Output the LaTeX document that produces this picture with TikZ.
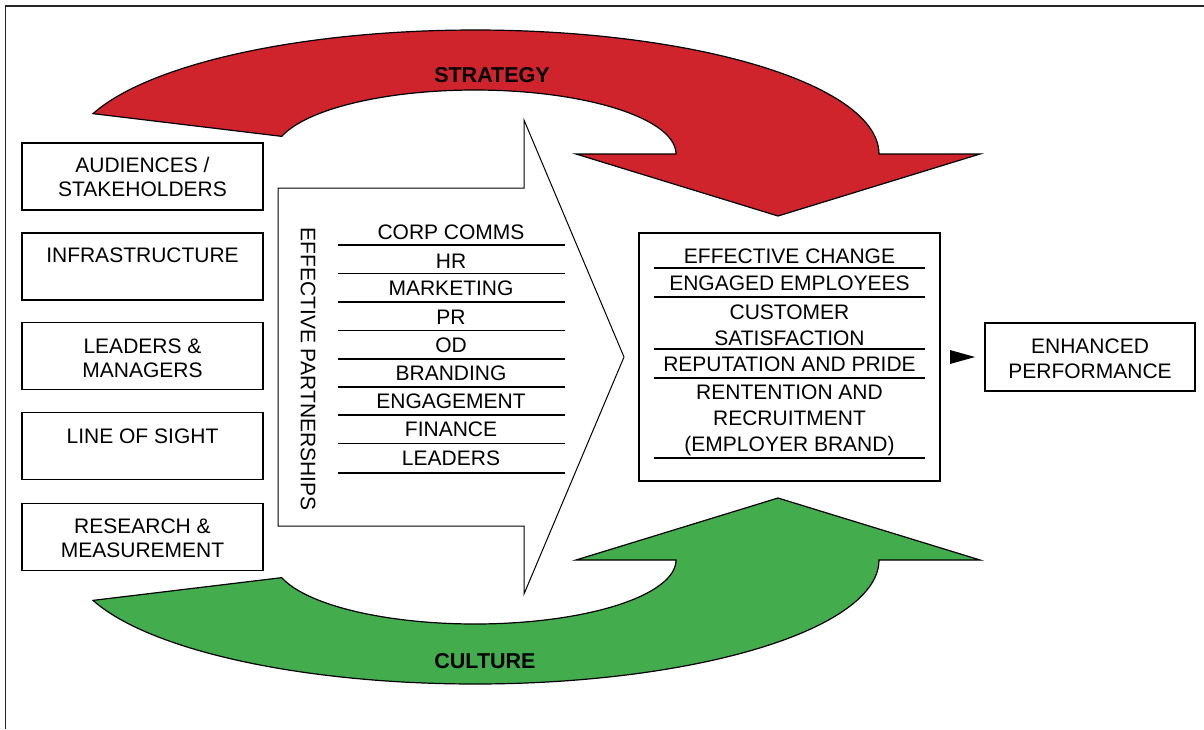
\documentclass[tikz,border=0pt]{standalone}
\usepackage{fontspec}
\setmainfont{Liberation Sans}
\definecolor{redA}{RGB}{208,36,45}
\definecolor{greenA}{RGB}{67,173,77}
\begin{document}
\begin{tikzpicture}[x=1pt,y=-1pt,
  box/.style={draw=black, line width=1.4pt, fill=white, inner sep=0pt},
  txt/.style={font=\fontsize{21}{24}\selectfont, align=center, inner sep=0pt},
  txtr/.style={font=\fontsize{21}{26}\selectfont, align=center, inner sep=0pt},
  boldtxt/.style={font=\fontsize{21.5}{24}\selectfont\bfseries, inner sep=0pt},
  sepline/.style={line width=1.2pt},
  bigarrow/.style={draw=black, line width=1.2pt}]
\useasboundingbox (0,0) rectangle (1204,729);
\fill[white] (0,0) rectangle (1204,729);
\draw[line width=1.5pt, black!85] (5.5,729) -- (5.5,6) -- (1204,6);

% strategy arrow
\filldraw[bigarrow, fill=redA]
  plot[domain=161:0, samples=100] ({475+404*cos(\x)},{154-124*sin(\x)})
  -- (980,154) -- (778,216) -- (576,154) -- (676,154)
  -- plot[domain=0:164, samples=100] ({475+201*cos(\x)},{154-64*sin(\x)})
  -- cycle;
% culture arrow
\filldraw[bigarrow, fill=greenA]
  plot[domain=161:0, samples=100] ({475+404*cos(\x)},{560+124*sin(\x)})
  -- (980,560) -- (778,498) -- (576,560) -- (676,560)
  -- plot[domain=0:164, samples=100] ({475+201*cos(\x)},{560+64*sin(\x)})
  -- cycle;
\node[boldtxt] (strategy) at (492,75) {STRATEGY};
\node[boldtxt] (culture) at (485,661) {CULTURE};

% chevron
\filldraw[draw=black, line width=1pt, fill=white]
  (278,188) -- (524,188) -- (524,120) -- (624,357) -- (524,594) -- (524,526) -- (278,526) -- cycle;
\node[txt, rotate=-90] (ep) at (308,369) {EFFECTIVE PARTNERSHIPS};

\foreach \y in {245,273.5,302,330.5,359,387,415,443.5,473}
  \draw[sepline] (338,\y) -- (565,\y);
\node[txt] (l1) at (451,232) {CORP COMMS};
\node[txt] (l2) at (451,261) {HR};
\node[txt] (l3) at (451,288) {MARKETING};
\node[txt] (l4) at (451,317) {PR};
\node[txt] (l5) at (451,345) {OD};
\node[txt] (l6) at (451,373) {BRANDING};
\node[txt] (l7) at (451,401) {ENGAGEMENT};
\node[txt] (l8) at (451,429) {FINANCE};
\node[txt] (l9) at (451,458) {LEADERS};

% left boxes
\foreach \n/\y in {1/176.5,2/266.5,3/356,4/446,5/537}
  \node[box, minimum width=241pt, minimum height=67pt] (b\n) at (142.5,\y) {};
\node[txt] (t1) at (142.5,177) {AUDIENCES /\\STAKEHOLDERS};
\node[txt] (t2) at (142.5,255) {INFRASTRUCTURE};
\node[txt] (t3) at (142.5,358) {LEADERS \&\\MANAGERS};
\node[txt] (t4) at (142.5,436) {LINE OF SIGHT};
\node[txt] (t5) at (142.5,538) {RESEARCH \&\\MEASUREMENT};

% outcomes box
\node[box, minimum width=301pt, minimum height=248pt] (out) at (789.5,357) {};
\foreach \y in {268,297,349,378,458}
  \draw[sepline] (654,\y) -- (925,\y);
\node[txtr] (o1) at (789.5,256) {EFFECTIVE CHANGE};
\node[txtr] (o2) at (789.5,283) {ENGAGED EMPLOYEES};
\node[txtr] (o3) at (789.5,325) {CUSTOMER\\SATISFACTION};
\node[txtr] (o4) at (789.5,364) {REPUTATION AND PRIDE};
\node[txtr] (o5) at (789.5,420) {RENTENTION AND\\RECRUITMENT\\(EMPLOYER BRAND)};

% enhanced performance
\node[box, minimum width=210pt, minimum height=68pt] (perf) at (1090,357) {};
\node[font=\fontsize{21}{25}\selectfont, align=center, inner sep=0pt] (pt) at (1090,358.5) {ENHANCED\\PERFORMANCE};

% small arrowhead
\coordinate (ah1) at (950,350);
\coordinate (ah2) at (975,357);
\coordinate (ah3) at (950,364);
\fill[black] (ah1) -- (ah2) -- (ah3) -- cycle;
\end{tikzpicture}
\end{document}
